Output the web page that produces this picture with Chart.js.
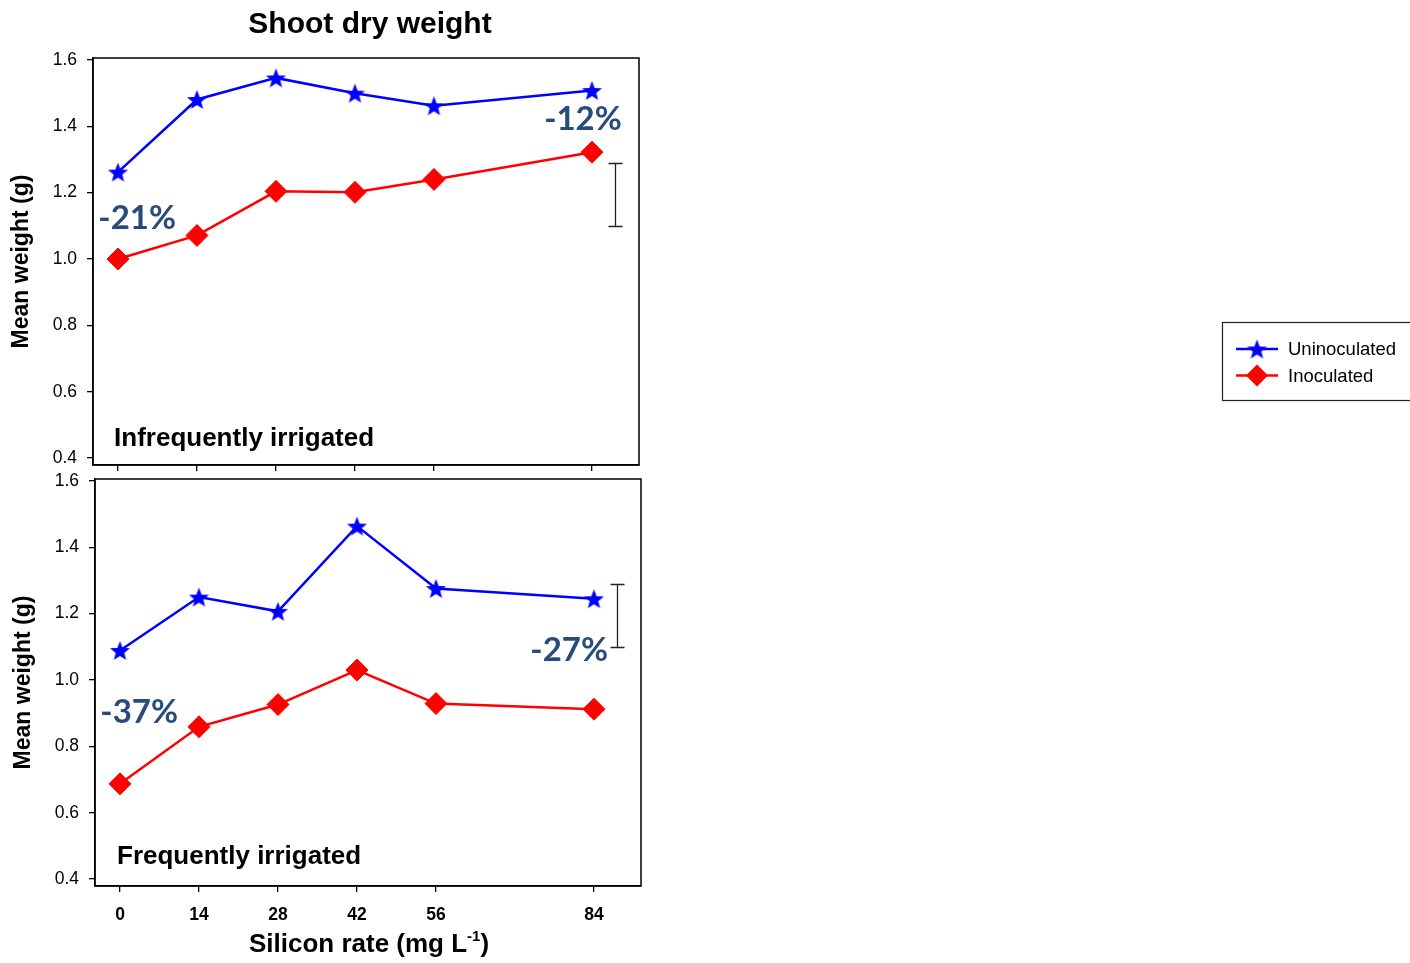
<!DOCTYPE html>
<html>
<head>
<meta charset="utf-8">
<title>Shoot dry weight</title>
<script src="https://cdn.jsdelivr.net/npm/chart.js@4.4.1/dist/chart.umd.min.js"></script>
<style>
  html, body { margin: 0; padding: 0; background: #ffffff; }
  #wrap { position: relative; width: 1410px; height: 963px; overflow: hidden; }
  #wrap canvas { position: absolute; left: 0; top: 0; }
</style>
</head>
<body>
<div id="wrap">
  <canvas id="infrequent" width="1410" height="963"></canvas>
  <canvas id="frequent" width="1410" height="963"></canvas>
</div>
<script>
// Silicon rates (mg L-1) on the x axis and their tick labels
const siliconRates = [0, 14, 28, 42, 56, 84];
const xTickLabels = ['0', '14', '28', '42', '56', '84'];
const yTickValues = [0.4, 0.6, 0.8, 1.0, 1.2, 1.4, 1.6];

// Mean shoot dry weight (g), infrequently irrigated
const infreqUninoculated = [1.262, 1.481, 1.546, 1.500, 1.462, 1.508];
const infreqInoculated   = [1.000, 1.071, 1.204, 1.201, 1.240, 1.322];

// Mean shoot dry weight (g), frequently irrigated
const freqUninoculated = [1.089, 1.250, 1.207, 1.464, 1.276, 1.245];
const freqInoculated   = [0.687, 0.859, 0.926, 1.030, 0.929, 0.912];

// LSD bars (low, high) and the rate they are drawn at
const infreqLsd = [1.10, 1.29];
const freqLsd = [1.10, 1.29];
const lsdRate = 88;

// Change due to inoculation at 0 and 84 mg L-1
const infreqChange = ['-21%', '-12%'];
const freqChange = ['-37%', '-27%'];

const seriesNames = ['Uninoculated', 'Inoculated'];
const panelNames = ['Infrequently irrigated', 'Frequently irrigated'];

const SANS = '"Liberation Sans", Arial, sans-serif';
const BLUE = '#0000FF';
const RED = '#FF0000';
const NOTE = '#284B7E';

// filled five-pointed star used as the point marker
function makeStar(color, outer, inner) {
  const size = Math.ceil(outer * 2 + 2);
  const c = document.createElement('canvas');
  c.width = size; c.height = size;
  const g = c.getContext('2d');
  const cx = size / 2, cy = size / 2 + outer * 0.1;
  g.fillStyle = color;
  g.beginPath();
  for (let i = 0; i < 10; i++) {
    const r = i % 2 ? inner : outer;
    const a = -Math.PI / 2 + i * Math.PI / 5;
    g.lineTo(cx + r * Math.cos(a), cy + r * Math.sin(a));
  }
  g.closePath();
  g.fill();
  return c;
}
const starMarker = makeStar(BLUE, 10.5, 4.5);

// Frame, LSD bar, change labels, panel name, plus title / axis title / legend
const panelDecor = {
  id: 'panelDecor',
  afterDatasetsDraw(chart, args, opts) {
    const ctx = chart.ctx;
    const a = chart.chartArea;
    const xs = chart.scales.x, ys = chart.scales.y;
    ctx.save();

    // full frame around the plot area
    ctx.strokeStyle = '#000';
    ctx.lineWidth = 1.5;
    ctx.strokeRect(a.left, a.top, a.right - a.left, a.bottom - a.top);

    // LSD bar
    const bx = Math.round(xs.getPixelForValue(lsdRate)) + 0.5;
    const b1 = Math.round(ys.getPixelForValue(opts.lsd[0])) + 0.5;
    const b2 = Math.round(ys.getPixelForValue(opts.lsd[1])) + 0.5;
    ctx.strokeStyle = '#222';
    ctx.lineWidth = 1.3;
    ctx.beginPath();
    ctx.moveTo(bx, b1); ctx.lineTo(bx, b2);
    ctx.moveTo(bx - 7, b1); ctx.lineTo(bx + 7, b1);
    ctx.moveTo(bx - 7, b2); ctx.lineTo(bx + 7, b2);
    ctx.stroke();

    // inoculation change labels
    ctx.fillStyle = NOTE;
    ctx.font = 'bold 33px Lato, "Open Sans", sans-serif';
    ctx.textAlign = 'center';
    ctx.textBaseline = 'middle';
    opts.change.forEach((t, i) => {
      const p = opts.changeAt[i];
      ctx.fillText(t, xs.getPixelForValue(p.x), ys.getPixelForValue(p.y));
    });

    // panel name
    ctx.fillStyle = '#000';
    ctx.font = 'bold 26px ' + SANS;
    ctx.textAlign = 'left';
    ctx.fillText(opts.name, xs.getPixelForValue(opts.nameAt.x), ys.getPixelForValue(opts.nameAt.y));

    // chart title
    if (opts.title) {
      ctx.font = 'bold 30px ' + SANS;
      ctx.textAlign = 'center';
      ctx.fillText(opts.title, 370, 25);
    }

    // x axis title with superscript exponent
    if (opts.xTitle) {
      const main = 'Silicon rate (mg L', sup = '-1', tail = ')';
      const fMain = 'bold 26px ' + SANS, fSup = 'bold 15px ' + SANS;
      ctx.font = fMain;
      const wMain = ctx.measureText(main).width, wTail = ctx.measureText(tail).width;
      ctx.font = fSup;
      const wSup = ctx.measureText(sup).width;
      let x = 369 - (wMain + wSup + wTail) / 2;
      const base = 952;
      ctx.textAlign = 'left';
      ctx.textBaseline = 'alphabetic';
      ctx.font = fMain; ctx.fillText(main, x, base); x += wMain;
      ctx.font = fSup; ctx.fillText(sup, x, base - 11); x += wSup;
      ctx.font = fMain; ctx.fillText(tail, x, base);
    }

    // legend
    if (opts.legend) {
      const L = opts.legend;
      ctx.strokeStyle = '#222';
      ctx.lineWidth = 1.2;
      ctx.strokeRect(L.x + 0.5, L.y + 0.5, L.w, L.h);
      chart.data.datasets.forEach((ds, i) => {
        const y = L.y + 27 + i * 26.5;
        ctx.strokeStyle = ds.borderColor;
        ctx.lineWidth = 2.5;
        ctx.beginPath();
        ctx.moveTo(L.x + 14, y); ctx.lineTo(L.x + 56, y);
        ctx.stroke();
        const mx = L.x + 35;
        if (ds.pointStyle === 'rectRot') {
          ctx.fillStyle = ds.backgroundColor;
          ctx.beginPath();
          ctx.moveTo(mx - 11, y); ctx.lineTo(mx, y - 11); ctx.lineTo(mx + 11, y); ctx.lineTo(mx, y + 11);
          ctx.closePath(); ctx.fill();
        } else {
          ctx.drawImage(ds.pointStyle, mx - ds.pointStyle.width / 2, y - ds.pointStyle.height / 2);
        }
        ctx.fillStyle = '#000';
        ctx.font = '18.5px ' + SANS;
        ctx.textAlign = 'left';
        ctx.textBaseline = 'middle';
        ctx.fillText(ds.label, L.x + 66, y + 1);
      });
    }
    ctx.restore();
  }
};

function buildPanel(id, cfg) {
  const toPoints = vals => siliconRates.map((x, i) => ({ x: x, y: vals[i] }));
  return new Chart(document.getElementById(id), {
    type: 'line',
    data: {
      datasets: [
        {
          label: seriesNames[0], data: toPoints(cfg.uninoc),
          borderColor: BLUE, backgroundColor: BLUE, borderWidth: 2.5, tension: 0,
          pointStyle: starMarker, pointRadius: 10, pointHoverRadius: 10
        },
        {
          label: seriesNames[1], data: toPoints(cfg.inoc),
          borderColor: RED, backgroundColor: RED, borderWidth: 2.5, tension: 0,
          pointStyle: 'rectRot', pointRadius: 11, pointHoverRadius: 11, pointBorderWidth: 1
        }
      ]
    },
    options: {
      responsive: false,
      animation: false,
      events: [],
      layout: { padding: cfg.padding },
      plugins: {
        legend: { display: false },
        tooltip: { enabled: false },
        panelDecor: cfg.decor
      },
      scales: {
        x: {
          type: 'linear', min: -4.43, max: 92.33,
          afterBuildTicks: s => { s.ticks = siliconRates.map(v => ({ value: v })); },
          afterFit: s => { s.height = cfg.xHeight; },
          grid: { drawOnChartArea: false, drawTicks: true, tickLength: 6, color: '#000', lineWidth: 1.3 },
          border: { color: '#000', width: 1.5 },
          ticks: {
            autoSkip: false, maxRotation: 0, padding: 13, color: '#000',
            font: { family: SANS, size: 17.5, weight: 'bold' },
            callback: (v, i) => cfg.showXLabels ? xTickLabels[i] : ''
          }
        },
        y: {
          type: 'linear', min: 0.379, max: 1.606,
          afterBuildTicks: s => { s.ticks = yTickValues.map(v => ({ value: v })); },
          afterFit: s => { s.width = cfg.yWidth; },
          grid: { drawOnChartArea: false, drawTicks: true, tickLength: 6, color: '#000', lineWidth: 1.3 },
          border: { color: '#000', width: 1.5 },
          ticks: {
            padding: 10, color: '#000',
            font: { family: SANS, size: 17.5 },
            callback: v => Number(v).toFixed(1)
          },
          title: {
            display: true, text: 'Mean weight (g)', color: '#000',
            font: { family: SANS, size: 23, weight: 'bold' },
            padding: { top: cfg.yTitlePad, bottom: 0 }
          }
        }
      }
    },
    plugins: [panelDecor]
  });
}

buildPanel('infrequent', {
  uninoc: infreqUninoculated, inoc: infreqInoculated,
  padding: { left: 0, top: 58, right: 771, bottom: 488 },
  xHeight: 10, yWidth: 93, yTitlePad: 8, showXLabels: false,
  decor: {
    lsd: infreqLsd, change: infreqChange,
    changeAt: [{ x: 3.4, y: 1.124 }, { x: 82.4, y: 1.422 }],
    name: panelNames[0], nameAt: { x: -0.7, y: 0.457 },
    title: 'Shoot dry weight',
    legend: { x: 1222, y: 322, w: 200, h: 78 }
  }
});

buildPanel('frequent', {
  uninoc: freqUninoculated, inoc: freqInoculated,
  padding: { left: 0, top: 479, right: 769, bottom: 0 },
  xHeight: 77, yWidth: 95, yTitlePad: 10, showXLabels: true,
  decor: {
    lsd: freqLsd, change: freqChange,
    changeAt: [{ x: 3.4, y: 0.903 }, { x: 79.6, y: 1.090 }],
    name: panelNames[1], nameAt: { x: -0.53, y: 0.466 },
    xTitle: true
  }
});
</script>
</body>
</html>
